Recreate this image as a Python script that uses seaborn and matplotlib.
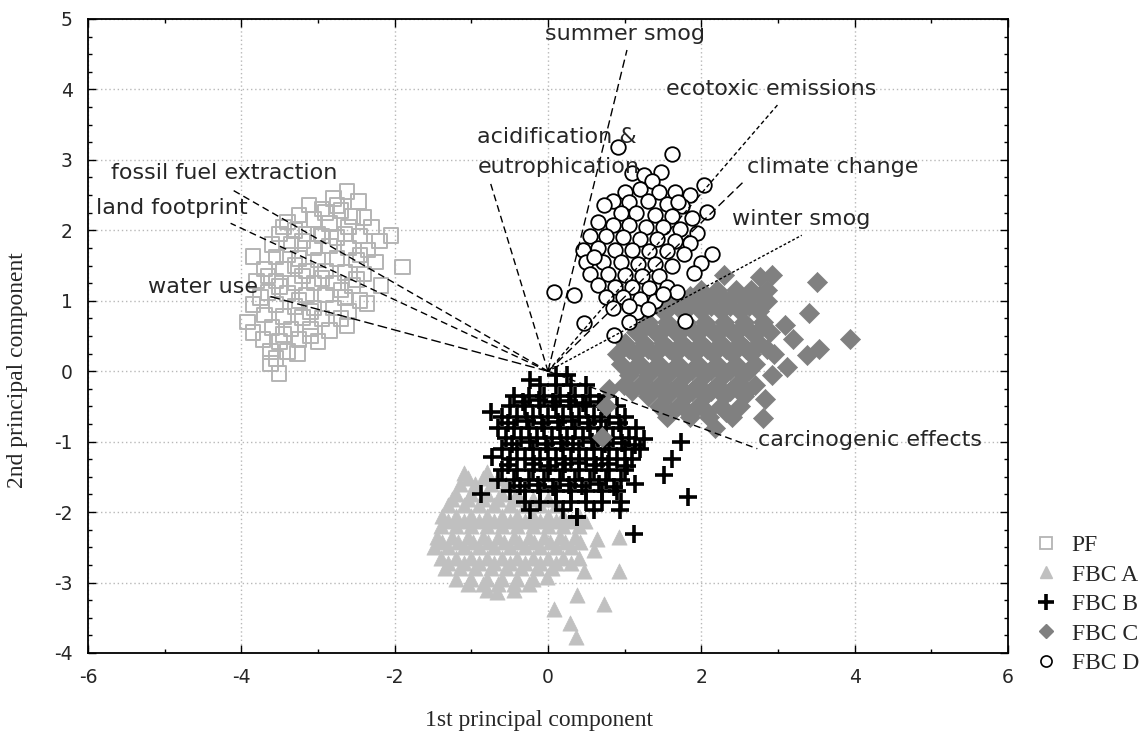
import numpy as np
import pandas as pd
import matplotlib
matplotlib.use("Agg")
import matplotlib.pyplot as plt
from matplotlib.lines import Line2D
from matplotlib.ticker import MultipleLocator
import seaborn as sns

# ---------------- data ----------------
pf_x = [-2.62, -2.47, -3.12, -2.80, -2.95, -2.70, -2.55, -3.25, -2.40, -3.40, -3.05, -2.85, -2.60, -2.30,
        -3.30, -3.50, -3.15, -2.95, -2.75, -2.45, -2.05, -2.20, -3.60, -3.35, -3.05, -2.85, -2.60, -2.35,
        -3.85, -3.55, -3.25, -3.00, -2.75, -2.50, -2.25, -1.90, -3.70, -3.45, -3.15, -2.90, -2.65, -2.40,
        -3.80, -3.55, -3.30, -3.05, -2.80, -2.55, -2.18, -3.65, -3.40, -3.15, -2.90, -2.65, -2.45, -3.85,
        -3.55, -3.30, -3.05, -2.80, -2.36, -3.70, -3.45, -3.20, -2.95, -2.70, -3.92, -2.62, -3.60, -3.35,
        -3.10, -2.85, -3.72, -3.50, -3.25, -3.00, -3.62, -3.40, -3.27, -3.62, -3.51, -3.00, -2.90, -3.20,
        -3.40, -2.70, -3.50, -3.10, -3.30,
        -3.45, -2.65, -3.20, -2.45, -3.65, -2.95, -2.50, -3.75, -3.25, -2.60, -3.85, -3.45, -3.10, -3.55,
        -2.75]
pf_y = [2.55, 2.41, 2.36, 2.45, 2.30, 2.28, 2.20, 2.22, 2.18, 2.12, 2.15, 2.10, 2.05, 2.05,
        2.00, 1.95, 1.95, 1.92, 1.90, 1.92, 1.93, 1.85, 1.80, 1.80, 1.75, 1.78, 1.75, 1.72,
        1.63, 1.62, 1.60, 1.58, 1.60, 1.58, 1.55, 1.48, 1.45, 1.45, 1.42, 1.42, 1.40, 1.38,
        1.28, 1.28, 1.25, 1.25, 1.25, 1.22, 1.22, 1.12, 1.10, 1.08, 1.08, 1.05, 1.00, 0.95,
        0.95, 0.92, 0.90, 0.90, 0.96, 0.80, 0.78, 0.76, 0.75, 0.75, 0.70, 0.65, 0.62, 0.60,
        0.60, 0.58, 0.45, 0.42, 0.45, 0.42, 0.28, 0.28, 0.25, 0.11, -0.03, 1.95, 2.25, 1.35,
        1.65, 1.15, 1.20, 0.85, 1.50,
        2.05, 1.95, 1.85, 1.65, 1.35, 1.32, 1.30, 1.05, 1.00, 0.85, 0.55, 0.52, 0.50, 0.18,
        2.35]

a_x = [-1.10, -0.79,
       -1.15, -0.95, -0.75, -0.55,
       -1.20, -1.00, -0.80, -0.60, -0.40,
       -1.30, -1.10, -0.90, -0.70, -0.50, -0.30, -0.10, 0.10,
       -1.38, -1.20, -1.00, -0.80, -0.60, -0.40, -0.20, 0.00, 0.20, 0.40,
       -1.40, -1.20, -1.00, -0.80, -0.60, -0.40, -0.20, 0.00, 0.20, 0.40,
       -1.45, -1.25, -1.05, -0.85, -0.65, -0.45, -0.25, -0.05, 0.15, 0.35, 0.64, 0.92,
       -1.49, -1.30, -1.10, -0.90, -0.70, -0.50, -0.30, -0.10, 0.10, 0.30, 0.60,
       -1.40, -1.20, -1.00, -0.80, -0.60, -0.40, -0.20, 0.00, 0.20, 0.40,
       -1.35, -1.15, -0.95, -0.75, -0.55, -0.35, -0.15, 0.05, 0.47, 0.92,
       -1.20, -1.00, -0.80, -0.60, -0.40, -0.20, -0.01,
       -0.80, -0.66, -0.45,
       0.38, 0.73, 0.08, 0.29, 0.36,
       -1.05, -0.85, -0.65,
       -1.25, -1.05, -0.85, -0.65, -0.45, -0.20, 0.00,
       -1.30, -1.10, -0.90, -0.70, -0.50, -0.30, -0.10, 0.10, 0.30, 0.48,
       -1.38, -1.18, -0.98, -0.78, -0.58, -0.38, -0.18, 0.02, 0.22, 0.42,
       -1.30, -1.10, -0.90, -0.70, -0.50, -0.30, -0.10, 0.10, 0.30,
       -1.05, -0.85, -0.65, -0.45, -0.25]
a_y = [-1.45, -1.43,
       -1.60, -1.60, -1.60, -1.60,
       -1.75, -1.75, -1.75, -1.75, -1.75,
       -1.90, -1.90, -1.90, -1.90, -1.90, -1.90, -1.90, -1.90,
       -2.05, -2.05, -2.05, -2.05, -2.05, -2.05, -2.05, -2.05, -2.05, -2.05,
       -2.20, -2.20, -2.20, -2.20, -2.20, -2.20, -2.20, -2.20, -2.20, -2.20,
       -2.35, -2.35, -2.35, -2.35, -2.35, -2.35, -2.35, -2.35, -2.35, -2.35, -2.38, -2.35,
       -2.50, -2.50, -2.50, -2.50, -2.50, -2.50, -2.50, -2.50, -2.50, -2.50, -2.54,
       -2.65, -2.65, -2.65, -2.65, -2.65, -2.65, -2.65, -2.65, -2.65, -2.65,
       -2.80, -2.80, -2.80, -2.80, -2.80, -2.80, -2.80, -2.80, -2.83, -2.83,
       -2.95, -2.95, -2.95, -2.95, -2.95, -2.95, -2.92,
       -3.10, -3.13, -3.10,
       -3.18, -3.30, -3.37, -3.58, -3.77,
       -1.52, -1.52, -1.52,
       -1.82, -1.82, -1.82, -1.82, -1.82, -1.82, -1.82,
       -2.12, -2.12, -2.12, -2.12, -2.12, -2.12, -2.12, -2.12, -2.12, -2.12,
       -2.42, -2.42, -2.42, -2.42, -2.42, -2.42, -2.42, -2.42, -2.42, -2.42,
       -2.72, -2.72, -2.72, -2.72, -2.72, -2.72, -2.72, -2.72, -2.72,
       -3.02, -3.02, -3.02, -3.02, -3.02]

b_x = [0.10, 0.25,
       -0.10, 0.10, 0.30, 0.50,
       -0.45, -0.25, -0.05, 0.15, 0.35, 0.55, 0.75,
       -0.50, -0.30, -0.10, 0.10, 0.30, 0.50, 0.70, 0.90,
       -0.60, -0.40, -0.20, 0.00, 0.20, 0.40, 0.60, 0.80, 1.00,
       -0.65, -0.45, -0.25, -0.05, 0.15, 0.35, 0.55, 0.75, 0.95, 1.15,
       -0.55, -0.35, -0.15, 0.05, 0.25, 0.45, 0.65, 0.85, 1.05, 1.25,
       -0.60, -0.40, -0.20, 0.00, 0.20, 0.40, 0.60, 0.80, 1.00, 1.20,
       -0.73, -0.50, -0.30, -0.10, 0.10, 0.30, 0.50, 0.70, 0.90, 1.10,
       -0.60, -0.40, -0.20, 0.00, 0.20, 0.40, 0.60, 0.80, 1.00,
       -0.65, -0.45, -0.25, -0.05, 0.15, 0.35, 0.55, 0.75, 0.95, 1.14,
       -0.50, -0.30, -0.10, 0.10, 0.30, 0.50, 0.70, 0.90,
       -0.30, -0.10, 0.10, 0.30, 0.50, 0.70, 0.95,
       -0.23, 0.20, 0.38, 0.60, 0.94,
       -0.75, -0.88, 1.73, 1.62, 1.51, 1.83, 1.12, 0.38, -0.23,
       -0.33, -0.12, 0.07, 0.28, 0.46, 0.67,
       -0.52, -0.28, -0.08, 0.13, 0.31, 0.52, 0.69, 0.92,
       -0.47, -0.24, -0.03, 0.17, 0.33, 0.57, 0.74, 0.97, 1.13,
       -0.52, -0.18, 0.03, 0.22, 0.41, 0.63, 0.78, 1.03,
       -0.37, -0.13, 0.06, 0.27, 0.44, 0.66, 0.86]
b_y = [-0.05, -0.05,
       -0.20, -0.20, -0.20, -0.20,
       -0.35, -0.35, -0.35, -0.35, -0.35, -0.35, -0.35,
       -0.50, -0.50, -0.50, -0.50, -0.50, -0.50, -0.50, -0.50,
       -0.65, -0.65, -0.65, -0.65, -0.65, -0.65, -0.65, -0.65, -0.65,
       -0.80, -0.80, -0.80, -0.80, -0.80, -0.80, -0.80, -0.80, -0.80, -0.80,
       -0.95, -0.95, -0.95, -0.95, -0.95, -0.95, -0.95, -0.95, -0.95, -0.96,
       -1.10, -1.10, -1.10, -1.10, -1.10, -1.10, -1.10, -1.10, -1.10, -1.10,
       -1.22, -1.25, -1.25, -1.25, -1.25, -1.25, -1.25, -1.25, -1.25, -1.25,
       -1.40, -1.40, -1.40, -1.40, -1.40, -1.40, -1.40, -1.40, -1.40,
       -1.55, -1.55, -1.55, -1.55, -1.55, -1.55, -1.55, -1.55, -1.55, -1.60,
       -1.70, -1.70, -1.70, -1.70, -1.70, -1.70, -1.70, -1.70,
       -1.85, -1.85, -1.85, -1.85, -1.85, -1.85, -1.85,
       -1.97, -1.97, -2.07, -1.97, -1.97,
       -0.58, -1.74, -1.00, -1.24, -1.48, -1.79, -2.31, -2.07, -0.13,
       -0.43, -0.41, -0.44, -0.42, -0.45, -0.43,
       -0.73, -0.71, -0.74, -0.72, -0.70, -0.73, -0.71, -0.74,
       -1.03, -1.01, -1.04, -1.02, -1.03, -1.00, -1.04, -1.02, -1.05,
       -1.33, -1.31, -1.34, -1.32, -1.30, -1.33, -1.31, -1.34,
       -1.63, -1.61, -1.64, -1.62, -1.63, -1.60, -1.64]

c_x = [2.92, 2.77, 2.29, 3.51,
       2.00, 2.20, 2.45, 2.65, 2.85,
       1.70, 1.90, 2.10, 2.35, 2.60, 2.85,
       1.50, 1.75, 2.00, 2.25, 2.50, 2.75, 3.40,
       1.30, 1.55, 1.80, 2.05, 2.30, 2.55, 2.80, 3.09,
       1.15, 1.40, 1.65, 1.90, 2.15, 2.40, 2.65, 2.90,
       1.00, 1.25, 1.50, 1.75, 2.00, 2.25, 2.50, 2.75, 3.20, 3.94, 3.53, 3.38,
       0.90, 1.15, 1.40, 1.65, 1.90, 2.15, 2.40, 2.65, 2.95,
       0.95, 1.20, 1.45, 1.70, 1.95, 2.20, 2.45, 2.70, 3.12,
       1.05, 1.30, 1.55, 1.80, 2.05, 2.30, 2.55, 2.92,
       0.99, 1.20, 1.45, 1.70, 1.95, 2.20, 2.45, 2.70,
       1.30, 1.55, 1.80, 2.05, 2.30, 2.55, 2.83,
       1.45, 1.70, 1.95, 2.25, 2.50,
       1.55, 1.85, 2.10, 2.40, 2.81,
       2.18, 0.71, 0.80, 0.75,
       1.85, 2.25, 2.50, 2.75,
       1.60, 1.85, 2.12, 2.38, 2.62,
       1.25, 1.52, 1.78, 2.02, 2.28, 2.52, 2.78,
       1.05, 1.30, 1.58, 1.82, 2.08, 2.32, 2.58, 2.85,
       1.10, 1.35, 1.62, 1.88, 2.12, 2.38, 2.62,
       1.10, 1.35, 1.60, 1.88, 2.12, 2.38, 2.60,
       1.60, 1.82, 2.08, 2.32]
c_y = [1.36, 1.34, 1.36, 1.27,
       1.15, 1.15, 1.15, 1.15, 1.15,
       1.00, 1.00, 1.00, 1.00, 1.00, 1.00,
       0.85, 0.85, 0.85, 0.85, 0.85, 0.85, 0.82,
       0.70, 0.70, 0.70, 0.70, 0.70, 0.70, 0.70, 0.65,
       0.55, 0.55, 0.55, 0.55, 0.55, 0.55, 0.55, 0.55,
       0.40, 0.40, 0.40, 0.40, 0.40, 0.40, 0.40, 0.40, 0.46, 0.46, 0.32, 0.23,
       0.25, 0.25, 0.25, 0.25, 0.25, 0.25, 0.25, 0.25, 0.25,
       0.10, 0.10, 0.10, 0.10, 0.10, 0.10, 0.10, 0.10, 0.06,
       -0.05, -0.05, -0.05, -0.05, -0.05, -0.05, -0.05, -0.06,
       -0.20, -0.20, -0.20, -0.20, -0.20, -0.20, -0.20, -0.20,
       -0.35, -0.35, -0.35, -0.35, -0.35, -0.35, -0.39,
       -0.50, -0.50, -0.50, -0.50, -0.50,
       -0.65, -0.65, -0.65, -0.65, -0.67,
       -0.81, -0.93, -0.25, -0.50,
       1.07, 1.07, 1.07, 1.07,
       0.92, 0.92, 0.92, 0.92, 0.92,
       0.62, 0.62, 0.62, 0.62, 0.62, 0.62, 0.62,
       0.32, 0.32, 0.32, 0.32, 0.32, 0.32, 0.32, 0.32,
       0.02, 0.02, 0.02, 0.02, 0.02, 0.02, 0.02,
       -0.28, -0.28, -0.28, -0.28, -0.28, -0.28, -0.28,
       -0.58, -0.58, -0.58, -0.58]

d_x = [0.91, 1.62, 1.10, 1.25, 1.47, 1.35, 2.03, 1.01, 1.20, 1.45, 1.65, 1.85, 0.85, 1.05, 1.30,
       1.55, 1.75, 2.07, 0.73, 0.95, 1.15, 1.40, 1.62, 1.88, 0.65, 0.85, 1.05, 1.28, 1.50, 1.72,
       1.94, 0.55, 0.75, 0.98, 1.20, 1.42, 1.65, 1.85, 0.45, 0.65, 0.88, 1.10, 1.32, 1.55, 1.78,
       2.14, 0.50, 0.72, 0.95, 1.18, 1.40, 1.62, 1.99, 0.55, 0.78, 1.00, 1.22, 1.45, 1.90, 0.65,
       0.88, 1.10, 1.32, 1.55, 1.68, 0.08, 0.34, 0.75, 0.98, 1.20, 1.40, 0.85, 1.16, 1.05, 1.79,
       1.05, 0.47, 0.86, 1.30, 0.60, 1.70, 1.50]
d_y = [3.18, 3.09, 2.81, 2.78, 2.83, 2.70, 2.64, 2.55, 2.58, 2.55, 2.55, 2.50, 2.42, 2.40, 2.42,
       2.38, 2.35, 2.26, 2.36, 2.25, 2.25, 2.22, 2.20, 2.18, 2.12, 2.08, 2.08, 2.05, 2.05, 2.02,
       1.96, 1.92, 1.92, 1.90, 1.88, 1.88, 1.85, 1.82, 1.72, 1.75, 1.72, 1.72, 1.70, 1.70, 1.66,
       1.67, 1.55, 1.55, 1.55, 1.52, 1.52, 1.50, 1.53, 1.38, 1.38, 1.36, 1.35, 1.35, 1.39, 1.22,
       1.20, 1.20, 1.18, 1.20, 1.13, 1.13, 1.08, 1.05, 1.05, 1.02, 1.00, 0.90, 0.84, 0.92, 0.72,
       0.70, 0.68, 0.51, 0.88, 1.62, 2.40, 1.10]

# loading vectors (end points) and their labels
load_names = ["summer smog", "ecotoxic emissions", "climate change", "winter smog",
              "acidification &\neutrophication", "fossil fuel extraction", "land footprint",
              "water use", "carcinogenic effects"]
load_x = [1.03, 3.01, 2.55, 3.31, -0.75, -4.11, -4.14, -3.62, 2.73]
load_y = [4.56, 3.80, 2.69, 1.93, 2.67, 2.57, 2.10, 1.06, -1.10]

group_names = ["PF", "FBC A", "FBC B", "FBC C", "FBC D"]

# ---------------- figure ----------------
sns.set_style("white")
plt.rcParams["font.family"] = ["DejaVu Sans"]
plt.rcParams["axes.unicode_minus"] = False

fig = plt.figure(figsize=(11.47, 7.42), dpi=100)
ax = fig.add_axes([88 / 1147, 1 - 653 / 742, 920 / 1147, 634 / 742])

frames = {
    "PF": pd.DataFrame({"x": pf_x, "y": pf_y}),
    "FBC A": pd.DataFrame({"x": a_x, "y": a_y}),
    "FBC B": pd.DataFrame({"x": b_x, "y": b_y}),
    "FBC C": pd.DataFrame({"x": c_x, "y": c_y}),
    "FBC D": pd.DataFrame({"x": d_x, "y": d_y}),
}

sns.scatterplot(data=frames["PF"], x="x", y="y", ax=ax, marker="s", s=110,
                facecolor="none", edgecolor="#b4b4b4", linewidth=1.4, zorder=2, legend=False)
sns.scatterplot(data=frames["FBC A"], x="x", y="y", ax=ax, marker="^", s=120,
                color="#c0c0c0", edgecolor="#c0c0c0", linewidth=0.5, zorder=2, legend=False)
sns.scatterplot(data=frames["FBC B"], x="x", y="y", ax=ax, marker="+", s=170,
                color="black", linewidth=2.6, zorder=2, legend=False)
sns.scatterplot(data=frames["FBC C"], x="x", y="y", ax=ax, marker="D", s=105,
                color="#808080", edgecolor="#808080", linewidth=0.5, zorder=2, legend=False)
sns.scatterplot(data=frames["FBC D"], x="x", y="y", ax=ax, marker="o", s=110,
                facecolor="white", edgecolor="black", linewidth=1.3, zorder=2, legend=False)

# loading lines
dashes = [(6, 3), (3, 2), (6, 3), (2, 1.5), (5, 3), (5, 3), (5, 3), (7, 3), (5, 3)]
for lx, ly, ds in zip(load_x, load_y, dashes):
    ax.plot([0, lx], [0, ly], color="black", lw=1.0, dashes=ds, zorder=3)

tfs = 16
ax.text(1.00, 4.79, "summer smog", ha="center", va="center", fontsize=tfs, zorder=4)
ax.text(1.54, 4.00, "ecotoxic emissions", ha="left", va="center", fontsize=tfs, zorder=4)
ax.text(2.60, 2.90, "climate change", ha="left", va="center", fontsize=tfs, zorder=4)
ax.text(2.40, 2.16, "winter smog", ha="left", va="center", fontsize=tfs, zorder=4)
ax.text(-0.92, 3.32, "acidification &", ha="left", va="center", fontsize=tfs, zorder=4)
ax.text(-0.92, 2.90, "eutrophication", ha="left", va="center", fontsize=tfs, zorder=4)
ax.text(-5.70, 2.82, "fossil fuel extraction", ha="left", va="center", fontsize=tfs, zorder=4)
ax.text(-5.90, 2.32, "land footprint", ha="left", va="center", fontsize=tfs, zorder=4)
ax.text(-5.22, 1.20, "water use", ha="left", va="center", fontsize=tfs, zorder=4)
ax.text(2.74, -0.98, "carcinogenic effects", ha="left", va="center", fontsize=tfs, zorder=4)

# axes, ticks, grid
ax.set_xlim(-6, 6)
ax.set_ylim(-4, 5)
ax.xaxis.set_major_locator(MultipleLocator(2))
ax.xaxis.set_minor_locator(MultipleLocator(1))
ax.yaxis.set_major_locator(MultipleLocator(1))
ax.yaxis.set_minor_locator(MultipleLocator(0.25))
ax.tick_params(which="both", direction="in", top=True, right=True, bottom=True, left=True,
               color="black", width=1)
ax.tick_params(which="major", length=6, labelsize=13.5, pad=11)
ax.tick_params(which="minor", length=3)
ax.grid(True, which="major", color="#b8b8b8", linestyle=(0, (1, 2)), linewidth=1, zorder=0)
ax.set_axisbelow(True)
for sp in ax.spines.values():
    sp.set_color("black")
    sp.set_linewidth(1.3)

ax.set_xlabel("1st principal component", fontsize=17, family="Liberation Serif")
ax.set_ylabel("2nd principal component", fontsize=17, family="Liberation Serif")
ax.xaxis.set_label_coords(0.49, -0.09)
ax.yaxis.set_label_coords(-0.065, 0.446)

handles = [
    Line2D([], [], ls="none", marker="s", ms=9, mfc="none", mec="#b4b4b4", mew=1.3),
    Line2D([], [], ls="none", marker="^", ms=9, mfc="#c0c0c0", mec="#c0c0c0"),
    Line2D([], [], ls="none", marker="+", ms=11, mec="black", mew=2.6),
    Line2D([], [], ls="none", marker="D", ms=7, mfc="#808080", mec="#808080"),
    Line2D([], [], ls="none", marker="o", ms=8, mfc="white", mec="black", mew=1.2),
]
fig.legend(handles, group_names, loc="upper left", bbox_to_anchor=(1022 / 1147, 1 - 525 / 742),
           frameon=False, prop={"family": "Liberation Serif", "size": 17},
           handletextpad=0.5, labelspacing=0.34, handlelength=1.2, borderaxespad=0)

fig.savefig("out.png", dpi=100)
